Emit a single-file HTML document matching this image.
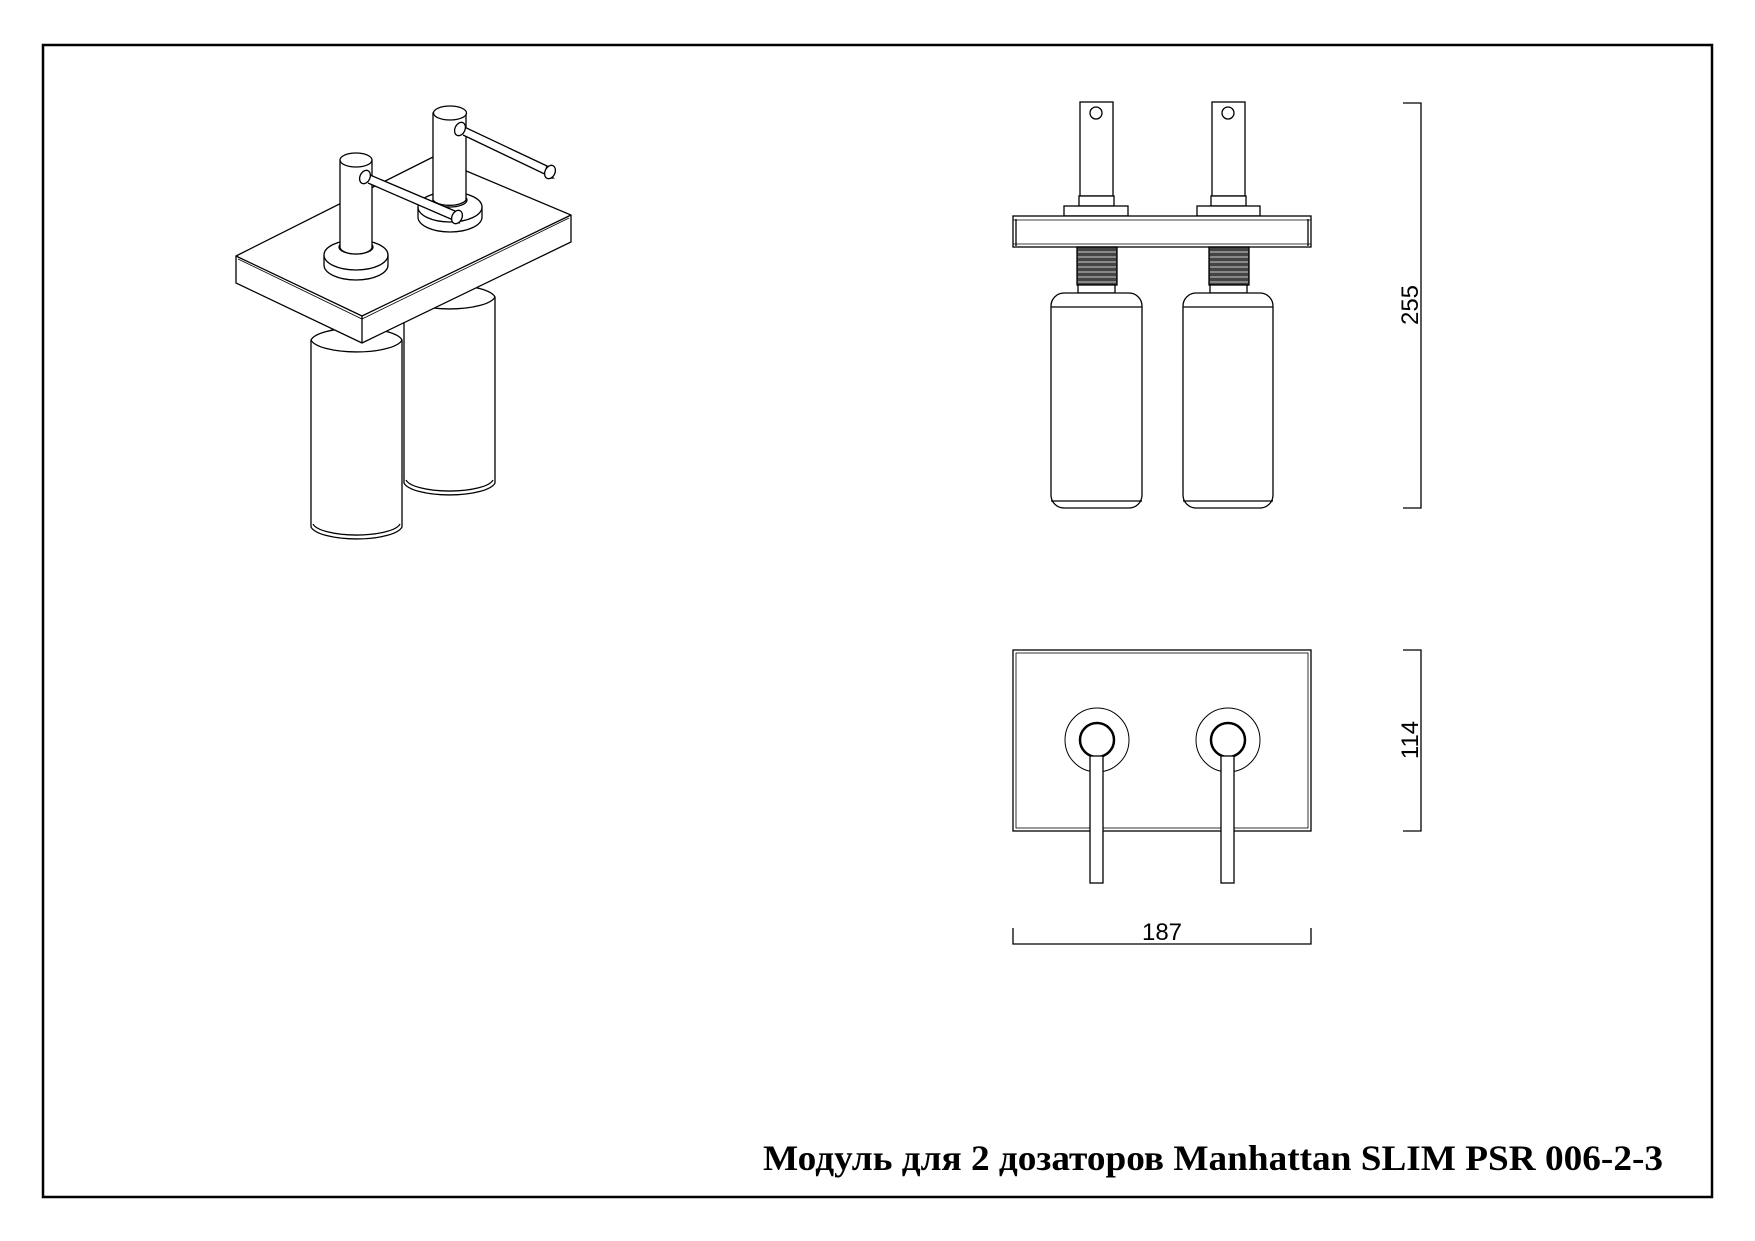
<!DOCTYPE html>
<html><head><meta charset="utf-8"><style>html,body{margin:0;padding:0;background:#fff}svg{display:block}</style></head>
<body>
<svg width="1755" height="1241" viewBox="0 0 1755 1241" xmlns="http://www.w3.org/2000/svg">
<rect x="43" y="45" width="1669" height="1152" fill="none" stroke="#000" stroke-width="2.5"/>
<text x="763" y="1170" font-family="Liberation Serif, serif" font-weight="bold" font-size="36" textLength="900" lengthAdjust="spacingAndGlyphs">Модуль для 2 дозаторов Manhattan SLIM PSR 006-2-3</text>

<g fill="#fff" stroke="#000" stroke-width="1.3">
<!-- iso right bottle -->
<path d="M404 297 L404 483 A46 14 0 0 0 495 483 L495 297 A46 14 0 0 0 404 297 Z"/>
<path d="M406 480 A44 13 0 0 0 493 480" fill="none"/>
<path d="M404 297 A46 14 0 0 0 495 297" fill="none"/>
<!-- iso left bottle -->
<path d="M311 340 L311 527 A46 14 0 0 0 402 527 L402 340 A46 14 0 0 0 311 340 Z"/>
<path d="M313 524 A44 13 0 0 0 400 524" fill="none"/>
<path d="M311 340 A46 14 0 0 0 402 340" fill="none"/>
<!-- plate -->
<path d="M236 256 L433 157 L571 215 L571 242 L362 343 L236 283 Z"/>
<path d="M236 256 L362 316 L571 215" fill="none"/>
<path d="M362 316 L362 343" fill="none"/>
<path d="M238 259 L362 319 L569 218" fill="none" stroke-width="0.8"/>
<!-- right dispenser -->
<path d="M418 207 L418 217 A32 15 0 0 0 482 217 L482 207" />
<ellipse cx="450" cy="207" rx="32" ry="15"/>
<ellipse cx="450" cy="200" rx="17" ry="7"/>
<path d="M433 113 L433 200 A17 7 0 0 0 466 200 L466 113 Z"/>
<ellipse cx="450" cy="113" rx="16.5" ry="7"/>
<path d="M458 124 L547 166 A6 8 0 0 0 553 178 L463 135" />
<ellipse cx="550" cy="172" rx="5" ry="7" transform="rotate(25 550 172)"/>
<ellipse cx="460" cy="129" rx="5" ry="7" transform="rotate(25 460 129)"/>
<!-- left dispenser -->
<path d="M324 255 L324 265 A32 15 0 0 0 388 265 L388 255" />
<ellipse cx="356" cy="255" rx="32" ry="15"/>
<ellipse cx="356" cy="247" rx="17" ry="7"/>
<path d="M340 160 L340 247 A16 7 0 0 0 372 247 L372 160 Z"/>
<ellipse cx="356" cy="160" rx="16" ry="7"/>
<path d="M363 172 L455 211 A6 8 0 0 0 460 223 L368 183" />
<ellipse cx="457" cy="217" rx="5" ry="7" transform="rotate(25 457 217)"/>
<ellipse cx="365" cy="177" rx="5" ry="7" transform="rotate(25 365 177)"/>
</g>

<!-- front view -->
<g fill="#fff" stroke="#000" stroke-width="1.3">
<rect x="1080" y="102" width="33" height="94"/>
<circle cx="1096" cy="113" r="6"/>
<rect x="1079" y="196" width="35" height="10"/>
<rect x="1064" y="206" width="64" height="10"/>
<rect x="1212" y="102" width="33" height="94"/>
<circle cx="1228" cy="113" r="6"/>
<rect x="1211" y="196" width="35" height="10"/>
<rect x="1197" y="206" width="63" height="10"/>
<rect x="1013" y="216" width="298" height="31"/>
<line x1="1016" y1="219" x2="1016" y2="246"/>
<line x1="1308" y1="219" x2="1308" y2="246"/>
<line x1="1013" y1="220" x2="1311" y2="220" stroke-width="0.8"/>
<line x1="1013" y1="244" x2="1311" y2="244" stroke-width="0.8"/>
<rect x="1077" y="247" width="40" height="38" fill="#444" stroke="#000"/>
<rect x="1209" y="247" width="40" height="38" fill="#444" stroke="#000"/>
<rect x="1078" y="285" width="37" height="8"/>
<rect x="1210" y="285" width="37" height="8"/>
<rect x="1051" y="293" width="91" height="215" rx="13"/>
<rect x="1183" y="293" width="90" height="215" rx="13"/>
<line x1="1051" y1="307" x2="1142" y2="307"/>
<line x1="1051" y1="501" x2="1142" y2="501"/>
<line x1="1183" y1="307" x2="1273" y2="307"/>
<line x1="1183" y1="501" x2="1273" y2="501"/>
</g>
<g stroke="#ccc" stroke-width="1">
<line x1="1078" y1="252" x2="1116" y2="252"/><line x1="1078" y1="257" x2="1116" y2="257"/><line x1="1078" y1="262" x2="1116" y2="262"/><line x1="1078" y1="267" x2="1116" y2="267"/><line x1="1078" y1="272" x2="1116" y2="272"/><line x1="1078" y1="277" x2="1116" y2="277"/><line x1="1078" y1="282" x2="1116" y2="282"/>
<line x1="1210" y1="252" x2="1248" y2="252"/><line x1="1210" y1="257" x2="1248" y2="257"/><line x1="1210" y1="262" x2="1248" y2="262"/><line x1="1210" y1="267" x2="1248" y2="267"/><line x1="1210" y1="272" x2="1248" y2="272"/><line x1="1210" y1="277" x2="1248" y2="277"/><line x1="1210" y1="282" x2="1248" y2="282"/>
</g>
<g fill="none" stroke="#000" stroke-width="1.3">
<path d="M1403 103 L1421 103 L1421 508 L1403 508"/>
<path d="M1403 650 L1421 650 L1421 831 L1403 831"/>
<path d="M1013 928 L1013 944 L1311 944 L1311 928"/>
</g>
<text transform="translate(1418 305) rotate(-90)" text-anchor="middle" font-family="Liberation Sans, sans-serif" font-size="24">255</text>
<text transform="translate(1418 740) rotate(-90)" text-anchor="middle" font-family="Liberation Sans, sans-serif" font-size="24">114</text>
<text x="1162" y="940" text-anchor="middle" font-family="Liberation Sans, sans-serif" font-size="24">187</text>

<!-- top view -->
<g fill="#fff" stroke="#000" stroke-width="1.3">
<rect x="1013" y="650" width="298" height="181"/>
<rect x="1016" y="653" width="292" height="175" fill="none" stroke-width="0.8"/>
<circle cx="1097" cy="740" r="32" stroke-width="1"/>
<circle cx="1097" cy="740" r="17" stroke-width="2.5"/>
<circle cx="1228" cy="740" r="32" stroke-width="1"/>
<circle cx="1228" cy="740" r="17" stroke-width="2.5"/>
<rect x="1090" y="756" width="13" height="127"/>
<rect x="1221" y="756" width="13" height="127"/>
</g>
</svg>
</body></html>
